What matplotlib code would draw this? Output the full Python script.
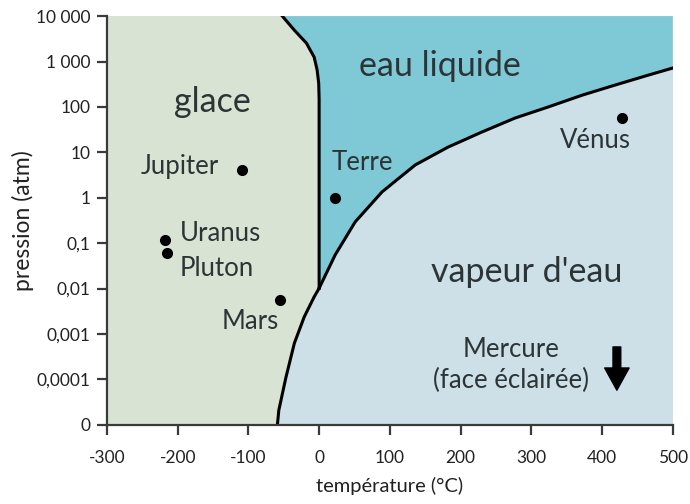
import numpy as np
import matplotlib
matplotlib.use("Agg")
from matplotlib import pyplot as plt

plt.rcParams["font.family"] = ["Lato", "DejaVu Sans"]
plt.rcParams["axes.unicode_minus"] = False

# Phase boundaries (temperature in °C, pressure in atm)
melt_T = [-52, -35, -18, -7, -2.8, -0.6, 0, 0]
melt_P = [10000, 4900, 2550, 1250, 650, 330, 150, 0.0102]

vap_T = [0, 22.6, 51, 89, 136, 182, 230, 277, 324, 372, 418, 465, 500]
vap_P = [0.0102, 0.055, 0.295, 1.35, 5.3, 13, 28, 57, 100, 182, 302, 500, 720]

sub_T = [0, -7, -21, -35, -47, -57, -59]
sub_P = [0.0102, 0.0066, 0.0024, 6.3e-4, 1.1e-4, 2.1e-5, 1e-5]

# Planets
planets = ["Jupiter", "Uranus", "Pluton", "Mars", "Terre", "Vénus"]
planet_T = [-109, -218, -215, -55, 23, 428]
planet_P = [4.0, 0.115, 0.06, 0.0055, 1.0, 56]

mercure_T = 421
mercure_P = (5.2e-4, 5.8e-5)

x_ticks = [-300, -200, -100, 0, 100, 200, 300, 400, 500]
y_ticks = [1e4, 1e3, 1e2, 1e1, 1, 0.1, 0.01, 0.001, 0.0001, 1e-5]
y_labels = ["10 000", "1 000", "100", "10", "1", "0,1", "0,01", "0,001", "0,0001", "0"]

xmin, xmax = -300, 500
ymin, ymax = 1e-5, 1e4

c_ice = "#d9e3d4"
c_liq = "#7fc8d5"
c_vap = "#cde0e7"
c_txt = "#2c3436"
c_axis = "#3a3a3a"

fig = plt.figure(figsize=(6.9, 5.04), dpi=100)
ax = fig.add_axes([0.155, 0.157, 0.82, 0.811])
ax.set_yscale("log")
ax.set_xlim(xmin, xmax)
ax.set_ylim(ymin, ymax)
ax.set_facecolor(c_ice)

# liquid region: melting curve down, vapour curve right, then up and back along the top
liq_T = melt_T + vap_T[1:] + [xmax, melt_T[0]]
liq_P = melt_P + vap_P[1:] + [ymax, ymax]
ax.fill(liq_T, liq_P, color=c_liq, lw=0)

# vapour region: sublimation curve up to triple point, vapour curve, down the right edge
v_T = sub_T[::-1] + vap_T[1:] + [xmax]
v_P = sub_P[::-1] + vap_P[1:] + [ymin]
ax.fill(v_T, v_P, color=c_vap, lw=0)

lw = 2.2
ax.plot(melt_T, melt_P, color="black", lw=lw)
ax.plot(vap_T, vap_P, color="black", lw=lw)
ax.plot(sub_T, sub_P, color="black", lw=lw)

ax.plot(planet_T, planet_P, "o", color="black", ms=7)

ax.annotate("", xy=(mercure_T, mercure_P[1]), xytext=(mercure_T, mercure_P[0]),
            arrowprops=dict(arrowstyle="simple,head_width=1.1,head_length=1.0,tail_width=0.35",
                            color="black", mutation_scale=16, shrinkA=0, shrinkB=0))

# region names
big = dict(color=c_txt, fontsize=24.5, ha="center", va="center")
ax.text(-151, 128, "glace", **big)
ax.text(171, 790, "eau liquide", **big)
ax.text(294, 0.023, "vapeur d'eau", **big)

small = dict(color=c_txt, fontsize=18.5, va="center")
ax.text(-141, 5.0, "Jupiter", ha="right", **small)
ax.text(-197, 0.16, "Uranus", ha="left", **small)
ax.text(-197, 0.028, "Pluton", ha="left", **small)
ax.text(-97, 0.0019, "Mars", ha="center", **small)
ax.text(18, 6.1, "Terre", ha="left", **small)
ax.text(390, 18.6, "Vénus", ha="center", **small)
ax.text(271, 4.5e-4, "Mercure", ha="center", **small)
ax.text(271, 9.3e-5, "(face éclairée)", ha="center", **small)

ax.set_xticks(x_ticks)
ax.set_yticks(y_ticks)
ax.set_yticklabels(y_labels)
ax.yaxis.set_minor_locator(matplotlib.ticker.NullLocator())
ax.tick_params(axis="both", direction="out", length=7, width=1.6, color=c_axis,
               labelsize=12.5, labelcolor="#222222")
ax.tick_params(axis="x", pad=11)
ax.tick_params(axis="y", pad=5)

for side in ["top", "right"]:
    ax.spines[side].set_visible(False)
for side in ["left", "bottom"]:
    ax.spines[side].set_color(c_axis)
    ax.spines[side].set_linewidth(1.6)

ax.set_xlabel("température (°C)", fontsize=14.5, color="#222222", labelpad=8)
ax.set_ylabel("pression (atm)", fontsize=16.5, color="#222222", labelpad=1)

fig.savefig("out.png", dpi=100)
